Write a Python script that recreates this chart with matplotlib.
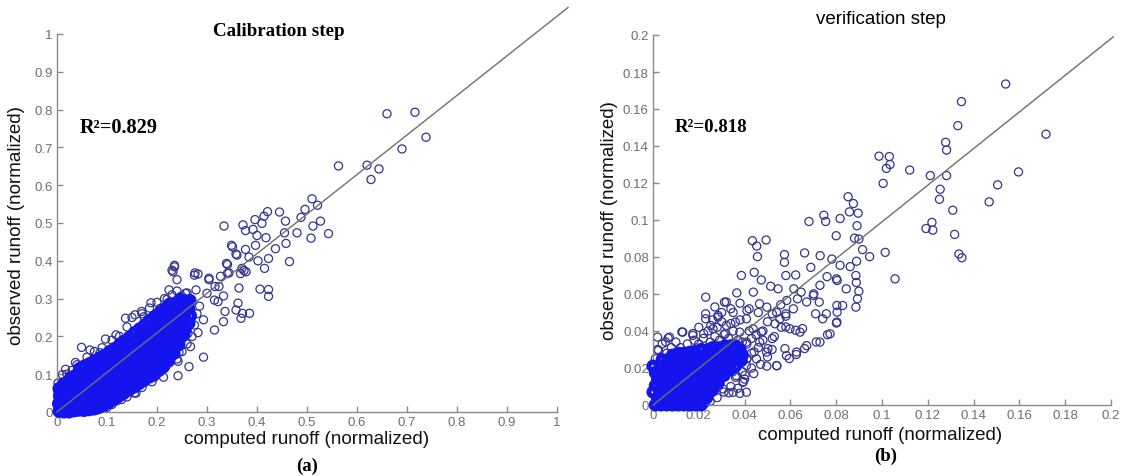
import matplotlib
matplotlib.use("Agg")
import matplotlib.pyplot as plt

# ---- calibration step (a): computed vs observed runoff ----
cal_core = [
    (0.004, 0.002), (0.007, 0.012), (0.003, 0.022), (0.008, 0.032), (0.005, 0.042), (0.006, 0.052), (0.004, 0.062),
    (0.014, 0.000), (0.017, 0.012), (0.013, 0.025), (0.016, 0.037), (0.015, 0.050), (0.018, 0.062), (0.014, 0.075),
    (0.024, 0.000), (0.027, 0.012), (0.023, 0.025), (0.026, 0.038), (0.025, 0.050), (0.028, 0.063), (0.024, 0.076), (0.026, 0.088),
    (0.034, 0.003), (0.037, 0.016), (0.033, 0.029), (0.036, 0.042), (0.035, 0.055), (0.038, 0.068), (0.034, 0.081), (0.036, 0.096),
    (0.044, 0.005), (0.047, 0.018), (0.043, 0.032), (0.046, 0.046), (0.045, 0.060), (0.048, 0.074), (0.044, 0.088), (0.046, 0.103), (0.045, 0.115),
    (0.054, 0.004), (0.057, 0.018), (0.053, 0.033), (0.056, 0.048), (0.055, 0.063), (0.058, 0.078), (0.054, 0.093), (0.056, 0.108), (0.055, 0.122),
    (0.064, 0.006), (0.067, 0.021), (0.063, 0.036), (0.066, 0.052), (0.065, 0.068), (0.068, 0.083), (0.064, 0.098), (0.066, 0.113), (0.065, 0.128),
    (0.074, 0.008), (0.077, 0.024), (0.073, 0.040), (0.076, 0.056), (0.075, 0.072), (0.078, 0.088), (0.074, 0.104), (0.076, 0.120), (0.075, 0.136),
    (0.084, 0.012), (0.087, 0.028), (0.083, 0.045), (0.086, 0.062), (0.085, 0.078), (0.088, 0.095), (0.084, 0.110), (0.086, 0.126), (0.085, 0.143),
    (0.094, 0.018), (0.097, 0.035), (0.093, 0.052), (0.096, 0.068), (0.095, 0.085), (0.098, 0.101), (0.094, 0.118), (0.096, 0.135), (0.095, 0.150),
    (0.104, 0.025), (0.107, 0.042), (0.103, 0.059), (0.106, 0.076), (0.105, 0.093), (0.108, 0.110), (0.104, 0.127), (0.106, 0.143), (0.105, 0.160),
    (0.114, 0.033), (0.117, 0.050), (0.113, 0.067), (0.116, 0.084), (0.115, 0.101), (0.118, 0.118), (0.114, 0.135), (0.116, 0.152), (0.115, 0.168),
    (0.124, 0.042), (0.127, 0.058), (0.123, 0.075), (0.126, 0.092), (0.125, 0.109), (0.128, 0.126), (0.124, 0.143), (0.126, 0.160), (0.125, 0.178),
    (0.134, 0.050), (0.137, 0.067), (0.133, 0.084), (0.136, 0.101), (0.135, 0.118), (0.138, 0.135), (0.134, 0.152), (0.136, 0.169), (0.135, 0.188),
    (0.144, 0.058), (0.147, 0.075), (0.143, 0.092), (0.146, 0.110), (0.145, 0.127), (0.148, 0.145), (0.144, 0.162), (0.146, 0.180), (0.145, 0.198),
    (0.154, 0.066), (0.157, 0.083), (0.153, 0.100), (0.156, 0.118), (0.155, 0.136), (0.158, 0.154), (0.154, 0.172), (0.156, 0.190), (0.155, 0.210),
    (0.164, 0.075), (0.167, 0.092), (0.163, 0.110), (0.166, 0.128), (0.165, 0.146), (0.168, 0.164), (0.164, 0.182), (0.166, 0.200), (0.165, 0.220),
    (0.174, 0.083), (0.177, 0.100), (0.173, 0.118), (0.176, 0.136), (0.175, 0.155), (0.178, 0.174), (0.174, 0.192), (0.176, 0.211), (0.175, 0.230),
    (0.184, 0.092), (0.187, 0.110), (0.183, 0.128), (0.186, 0.146), (0.185, 0.165), (0.188, 0.184), (0.184, 0.203), (0.186, 0.222), (0.185, 0.242),
    (0.194, 0.100), (0.197, 0.118), (0.193, 0.137), (0.196, 0.156), (0.195, 0.175), (0.198, 0.194), (0.194, 0.213), (0.196, 0.232), (0.195, 0.252),
    (0.204, 0.110), (0.207, 0.128), (0.203, 0.147), (0.206, 0.166), (0.205, 0.185), (0.208, 0.204), (0.204, 0.223), (0.206, 0.242), (0.205, 0.262),
    (0.214, 0.122), (0.217, 0.140), (0.213, 0.159), (0.216, 0.178), (0.215, 0.197), (0.218, 0.216), (0.214, 0.235), (0.216, 0.254), (0.215, 0.272),
    (0.224, 0.138), (0.227, 0.156), (0.223, 0.175), (0.226, 0.194), (0.225, 0.213), (0.228, 0.232), (0.224, 0.251), (0.226, 0.270), (0.225, 0.285),
    (0.234, 0.155), (0.237, 0.173), (0.233, 0.192), (0.236, 0.211), (0.235, 0.230), (0.238, 0.249), (0.234, 0.268), (0.236, 0.288),
    (0.244, 0.178), (0.247, 0.196), (0.243, 0.214), (0.246, 0.232), (0.245, 0.250), (0.248, 0.268), (0.244, 0.286), (0.246, 0.298),
    (0.254, 0.205), (0.257, 0.222), (0.253, 0.240), (0.256, 0.258), (0.255, 0.276), (0.258, 0.294),
    (0.264, 0.235), (0.267, 0.255), (0.263, 0.275), (0.266, 0.295),
]

cal_scatter = [
    # halo around the dense band
    (0.020, 0.100), (0.030, 0.110), (0.040, 0.125), (0.060, 0.145), (0.075, 0.160), (0.090, 0.170),
    (0.110, 0.190), (0.125, 0.200), (0.140, 0.225), (0.150, 0.250), (0.170, 0.260), (0.185, 0.275),
    (0.200, 0.290), (0.215, 0.300), (0.230, 0.310), (0.240, 0.320), (0.260, 0.315),
    (0.040, 0.000), (0.060, 0.003), (0.080, 0.005), (0.100, 0.012), (0.110, 0.020), (0.120, 0.030),
    (0.140, 0.040), (0.155, 0.050), (0.170, 0.065), (0.190, 0.080), (0.200, 0.100), (0.215, 0.115),
    (0.225, 0.130), (0.240, 0.140), (0.250, 0.160), (0.260, 0.180), (0.270, 0.200), (0.275, 0.230),
    (0.280, 0.260), (0.285, 0.280),
    # upper-left scatter
    (0.049, 0.171), (0.066, 0.164), (0.097, 0.193), (0.118, 0.204), (0.137, 0.248), (0.156, 0.257),
    (0.174, 0.252), (0.206, 0.274), (0.224, 0.323), (0.235, 0.384), (0.232, 0.371), (0.275, 0.362),
    (0.282, 0.365), (0.037, 0.131), (0.017, 0.113), (0.002, 0.077), (0.011, 0.099), (0.086, 0.157),
    (0.169, 0.266), (0.188, 0.289), (0.220, 0.298), (0.249, 0.307), (0.257, 0.314), (0.278, 0.323),
    (0.300, 0.314), (0.304, 0.354), (0.316, 0.332), (0.315, 0.296), (0.333, 0.307),
    # lower-right scatter
    (0.293, 0.244), (0.282, 0.210), (0.333, 0.239), (0.315, 0.217), (0.336, 0.266), (0.358, 0.270),
    (0.371, 0.261), (0.385, 0.261), (0.368, 0.248), (0.362, 0.288), (0.322, 0.292), (0.264, 0.239),
    (0.262, 0.208), (0.267, 0.173), (0.244, 0.158), (0.242, 0.134), (0.264, 0.120), (0.293, 0.145),
    (0.213, 0.128), (0.195, 0.092), (0.213, 0.092), (0.242, 0.096), (0.129, 0.033), (0.158, 0.050),
    (0.148, 0.063), (0.177, 0.110),
    # 0.3 - 0.55 range
    (0.276, 0.368), (0.235, 0.388), (0.230, 0.375), (0.240, 0.350), (0.304, 0.350), (0.324, 0.332),
    (0.364, 0.328), (0.327, 0.359), (0.344, 0.368), (0.367, 0.366), (0.374, 0.374), (0.339, 0.393),
    (0.406, 0.325), (0.423, 0.324), (0.423, 0.306), (0.415, 0.380), (0.402, 0.400), (0.423, 0.406),
    (0.384, 0.410), (0.358, 0.418), (0.377, 0.430), (0.397, 0.441), (0.349, 0.441), (0.400, 0.467),
    (0.418, 0.461), (0.392, 0.483), (0.377, 0.480), (0.334, 0.492), (0.372, 0.495), (0.410, 0.499),
    (0.396, 0.509), (0.414, 0.518), (0.421, 0.530), (0.445, 0.529), (0.457, 0.505), (0.465, 0.398),
    (0.437, 0.432), (0.458, 0.446), (0.455, 0.474), (0.480, 0.474), (0.508, 0.460), (0.543, 0.472),
    (0.527, 0.505), (0.512, 0.492), (0.488, 0.515), (0.496, 0.536), (0.521, 0.547), (0.510, 0.564),
    (0.351, 0.437), (0.360, 0.415), (0.341, 0.390), (0.370, 0.380), (0.378, 0.371), (0.341, 0.367),
    # top outliers
    (0.563, 0.651), (0.620, 0.653), (0.644, 0.643), (0.628, 0.615), (0.660, 0.789), (0.716, 0.793),
    (0.738, 0.727), (0.690, 0.696),
]

# ---- verification step (b) ----
ver_core = [
    (0.001, 0.000), (0.002, 0.0035), (0.000, 0.007), (0.001, 0.0105), (0.002, 0.014), (0.001, 0.0175), (0.000, 0.021),
    (0.0035, 0.000), (0.004, 0.0035), (0.003, 0.007), (0.0035, 0.0105), (0.004, 0.014), (0.003, 0.0175), (0.0035, 0.021), (0.004, 0.0245),
    (0.006, 0.000), (0.0065, 0.0035), (0.0055, 0.007), (0.006, 0.0105), (0.0065, 0.014), (0.0055, 0.0175), (0.006, 0.021), (0.0065, 0.0245),
    (0.0085, 0.000), (0.009, 0.0035), (0.008, 0.007), (0.0085, 0.0105), (0.009, 0.014), (0.008, 0.0175), (0.0085, 0.021), (0.009, 0.0245), (0.0085, 0.027),
    (0.011, 0.000), (0.0115, 0.0035), (0.0105, 0.007), (0.011, 0.0105), (0.0115, 0.014), (0.0105, 0.0175), (0.011, 0.021), (0.0115, 0.0245), (0.011, 0.028),
    (0.0135, 0.000), (0.014, 0.0035), (0.013, 0.007), (0.0135, 0.0105), (0.014, 0.014), (0.013, 0.0175), (0.0135, 0.021), (0.014, 0.0245), (0.0135, 0.028),
    (0.016, 0.000), (0.0165, 0.0035), (0.0155, 0.007), (0.016, 0.0105), (0.0165, 0.014), (0.0155, 0.0175), (0.016, 0.021), (0.0165, 0.0245), (0.016, 0.0285),
    (0.0185, 0.000), (0.019, 0.0035), (0.018, 0.007), (0.0185, 0.0105), (0.019, 0.014), (0.018, 0.0175), (0.0185, 0.021), (0.019, 0.0245), (0.0185, 0.029),
    (0.021, 0.000), (0.0215, 0.0035), (0.0205, 0.007), (0.021, 0.0105), (0.0215, 0.014), (0.0205, 0.0175), (0.021, 0.021), (0.0215, 0.0255), (0.021, 0.030),
    (0.0235, 0.004), (0.024, 0.0075), (0.023, 0.011), (0.0235, 0.0145), (0.024, 0.018), (0.023, 0.0215), (0.0235, 0.026), (0.024, 0.030),
    (0.026, 0.008), (0.0265, 0.0115), (0.0255, 0.015), (0.026, 0.0185), (0.0265, 0.022), (0.0255, 0.0265), (0.026, 0.031),
    (0.0285, 0.012), (0.029, 0.0155), (0.028, 0.019), (0.0285, 0.0225), (0.029, 0.027), (0.0285, 0.031),
    (0.031, 0.016), (0.0315, 0.0195), (0.0305, 0.023), (0.031, 0.027), (0.0315, 0.032),
    (0.0335, 0.019), (0.034, 0.0225), (0.033, 0.026), (0.0335, 0.030), (0.034, 0.032),
    (0.036, 0.021), (0.0365, 0.025), (0.0355, 0.029), (0.036, 0.032),
    (0.0385, 0.024), (0.039, 0.027), (0.038, 0.030),
]

ver_scatter = [
    # halo around the core
    (0.001, 0.025), (0.002, 0.030), (0.004, 0.033), (0.006, 0.028), (0.008, 0.031), (0.010, 0.034),
    (0.012, 0.031), (0.015, 0.033), (0.018, 0.035), (0.020, 0.033), (0.022, 0.036), (0.025, 0.034),
    (0.027, 0.037), (0.029, 0.035), (0.031, 0.038), (0.033, 0.036), (0.035, 0.040), (0.037, 0.035),
    (0.039, 0.034), (0.041, 0.033), (0.043, 0.036), (0.024, 0.040), (0.028, 0.042), (0.020, 0.042),
    (0.030, 0.045), (0.026, 0.046), (0.034, 0.044), (0.038, 0.046), (0.042, 0.040), (0.045, 0.038),
    (0.048, 0.035), (0.046, 0.031), (0.043, 0.028), (0.041, 0.025), (0.043, 0.020), (0.039, 0.018),
    (0.036, 0.015), (0.034, 0.010), (0.031, 0.007), (0.028, 0.004), (0.025, 0.002), (0.023, 0.001),
    (0.037, 0.009), (0.040, 0.014), (0.044, 0.017), (0.047, 0.022), (0.050, 0.026), (0.052, 0.030),
    (0.048, 0.040), (0.050, 0.045), (0.053, 0.037), (0.056, 0.042), (0.054, 0.050), (0.058, 0.048),
    (0.046, 0.050), (0.042, 0.052), (0.038, 0.055), (0.034, 0.052), (0.030, 0.050), (0.027, 0.053),
    (0.002, 0.0367), (0.0072, 0.0367), (0.013, 0.0394), (0.0174, 0.0376), (0.023, 0.0466), (0.0262, 0.0412),
    (0.0284, 0.0484), (0.032, 0.043), (0.035, 0.050), (0.0379, 0.0394), (0.0408, 0.0466), (0.0437, 0.0412),
    (0.0408, 0.034), (0.0466, 0.034), (0.0496, 0.0286), (0.0452, 0.0249), (0.0408, 0.0213), (0.0364, 0.0159),
    (0.0393, 0.0123), (0.035, 0.0069), (0.0408, 0.0069), (0.0306, 0.0087), (0.054, 0.0213), (0.0583, 0.0267),
    (0.0627, 0.0286), (0.0671, 0.0321), (0.0729, 0.034), (0.0773, 0.0385), (0.0803, 0.0448), (0.0598, 0.0412),
    (0.0642, 0.0394), (0.0554, 0.0466), (0.0613, 0.052), (0.0671, 0.0557), (0.070, 0.0592), (0.0729, 0.0647),
    (0.0803, 0.0538), (0.0817, 0.0755), (0.032, 0.0557),
    (0.0024, 0.0296), (0.0055, 0.0341), (0.0066, 0.0362), (0.0028, 0.0197), (0.0126, 0.0395), (0.0174, 0.0386),
    (0.0221, 0.0386), (0.0252, 0.0430), (0.0284, 0.0475), (0.0315, 0.0386), (0.0360, 0.0448), (0.0410, 0.0511),
    (0.0465, 0.0547), (0.0497, 0.0529), (0.0521, 0.0493), (0.0363, 0.0323), (0.0300, 0.0215), (0.0347, 0.0179),
    (0.0402, 0.0161), (0.0394, 0.0126), (0.0379, 0.0063), (0.0331, 0.0066), (0.0410, 0.0251), (0.0442, 0.0287),
    (0.0502, 0.0305), (0.0576, 0.0305), (0.0521, 0.0359), (0.0473, 0.0395), (0.0653, 0.0413), (0.0623, 0.0404),
    (0.0580, 0.0422), (0.0533, 0.0439), (0.0580, 0.0493), (0.0710, 0.0493), (0.0726, 0.0556), (0.0702, 0.0601),
    (0.0631, 0.0574), (0.0558, 0.0542), (0.0584, 0.0565), (0.0647, 0.0610), (0.0615, 0.0628), (0.0623, 0.0703),
    (0.0580, 0.0700), (0.0546, 0.0628), (0.0514, 0.0642), (0.0438, 0.0610), (0.0473, 0.0676), (0.0442, 0.0717),
    (0.0230, 0.0493), (0.0312, 0.0556), (0.0230, 0.0583), (0.0366, 0.0606), (0.0386, 0.0700),
    (0.0541, 0.0212), (0.0497, 0.0210), (0.0595, 0.0251), (0.0626, 0.0273), (0.0662, 0.0305), (0.0713, 0.0341),
    (0.0762, 0.0380), (0.0801, 0.0443), (0.0741, 0.0466), (0.0757, 0.0493), (0.0804, 0.0502), (0.0828, 0.0538),
    (0.0886, 0.0529), (0.0893, 0.0574), (0.0844, 0.0628), (0.0899, 0.0615), (0.0888, 0.0662), (0.0886, 0.0700),
    (0.0804, 0.0673), (0.0801, 0.0682), (0.0760, 0.0694), (0.0889, 0.0777), (0.0861, 0.0748), (0.0689, 0.0744),
    (0.0781, 0.0789), (0.0730, 0.0807), (0.0662, 0.0822), (0.0574, 0.0771), (0.0574, 0.0813), (0.0456, 0.0802),
    (0.0453, 0.0859), (0.0494, 0.0892), (0.0434, 0.0888),
    (0.0852, 0.1126), (0.0875, 0.1089), (0.0896, 0.1037), (0.0858, 0.1044), (0.0746, 0.1026), (0.0754, 0.0992),
    (0.0817, 0.1008), (0.0681, 0.0992), (0.0891, 0.0969), (0.0800, 0.0915), (0.0880, 0.0902), (0.0899, 0.0897),
    (0.0915, 0.0840), (0.0946, 0.0802), (0.1014, 0.0825), (0.1057, 0.0682),
    (0.1218, 0.0987), (0.1192, 0.0954), (0.1222, 0.0945), (0.1317, 0.0922), (0.1336, 0.0816), (0.1349, 0.0796),
    (0.0987, 0.1345), (0.1032, 0.1343), (0.1035, 0.1300), (0.1019, 0.1279), (0.1121, 0.1270), (0.1211, 0.1240),
    (0.1282, 0.1240), (0.1596, 0.1260), (0.1005, 0.1198), (0.1505, 0.1190), (0.1254, 0.1166), (0.1251, 0.1112),
    (0.1468, 0.1098), (0.1309, 0.1053), (0.1278, 0.1420), (0.1282, 0.1378), (0.1331, 0.1510), (0.1347, 0.1640),
    (0.1540, 0.1735), (0.1716, 0.1464),
]

cal_fit = ([0.0, 1.022], [0.0, 1.07])
ver_fit = ([0.0, 0.201], [0.0, 0.199])

cal_ticks = [0, 0.1, 0.2, 0.3, 0.4, 0.5, 0.6, 0.7, 0.8, 0.9, 1]
ver_ticks = [0, 0.02, 0.04, 0.06, 0.08, 0.1, 0.12, 0.14, 0.16, 0.18, 0.2]

W, H = 1126, 477
SANS = "Liberation Sans"
SERIF = "Liberation Serif"


def px(x, y):
    # pixel position in the reference -> figure fraction
    return x / W, 1 - y / H


def style_axes(ax, ticks, lim):
    ax.set_xlim(0, lim)
    ax.set_ylim(0, lim)
    ax.set_xticks(ticks)
    ax.set_yticks(ticks)
    labels = [f"{t:g}" for t in ticks]
    ax.set_xticklabels(labels)
    ax.set_yticklabels(labels)
    for side in ("top", "right"):
        ax.spines[side].set_visible(False)
    for side in ("left", "bottom"):
        ax.spines[side].set_color("#8a8a8a")
        ax.spines[side].set_linewidth(1.0)
    ax.tick_params(direction="in", length=4, width=1, color="#8a8a8a",
                   labelcolor="#6e6e6e", labelsize=9.5, pad=3)
    for lab in ax.get_xticklabels() + ax.get_yticklabels():
        lab.set_fontfamily(SANS)


def draw_panel(ax, core, scatter, fit):
    sx, sy = zip(*scatter)
    cx, cy = zip(*core)
    ax.scatter(sx, sy, s=34, facecolors="none", edgecolors="#34348f",
               linewidths=0.9, clip_on=False, zorder=2)
    # the dense part of the cloud reads as solid blue in the reference
    ax.scatter(cx, cy, s=34, facecolors="none", edgecolors="#1414ee",
               linewidths=3.6, clip_on=False, zorder=3)
    ax.plot(fit[0], fit[1], color="#6f6f6f", lw=1.0, clip_on=False, zorder=4)


fig = plt.figure(figsize=(W / 100, H / 100), dpi=100)
fig.patch.set_facecolor("white")

ax1 = fig.add_axes([57 / W, 1 - 413 / H, 500 / W, 378 / H])
ax2 = fig.add_axes([653 / W, 1 - 406 / H, 458 / W, 370 / H])

draw_panel(ax1, cal_core, cal_scatter, cal_fit)
style_axes(ax1, cal_ticks, 1)
draw_panel(ax2, ver_core, ver_scatter, ver_fit)
style_axes(ax2, ver_ticks, 0.2)

# titles, labels and annotations
fig.text(*px(279, 32), "Calibration step", family=SERIF, weight="bold",
         fontsize=13.7, ha="center", va="center")
fig.text(*px(881, 20), "verification step", family=SANS,
         fontsize=13.5, ha="center", va="center")

fig.text(*px(80, 128), "R²=0.829", family=SERIF, weight="bold",
         fontsize=14.7, ha="left", va="center")
fig.text(*px(675, 128), "R²=0.818", family=SERIF, weight="bold",
         fontsize=13.6, ha="left", va="center")

fig.text(*px(307, 440), "computed runoff (normalized)", family=SANS,
         fontsize=13.6, ha="center", va="center", color="#111111")
fig.text(*px(880, 436), "computed runoff (normalized)", family=SANS,
         fontsize=13.5, ha="center", va="center", color="#111111")
fig.text(*px(17, 226), "observed runoff (normalized)", family=SANS,
         fontsize=13.5, ha="center", va="center", rotation=90, color="#111111")
fig.text(*px(609, 221), "observed runoff (normalized)", family=SANS,
         fontsize=13.5, ha="center", va="center", rotation=90, color="#111111")

fig.text(*px(307, 466), "(a)", family=SERIF, weight="bold",
         fontsize=13.5, ha="center", va="center")
fig.text(*px(886, 456), "(b)", family=SERIF, weight="bold",
         fontsize=13.5, ha="center", va="center")

fig.savefig("out.png", dpi=100, facecolor="white")
